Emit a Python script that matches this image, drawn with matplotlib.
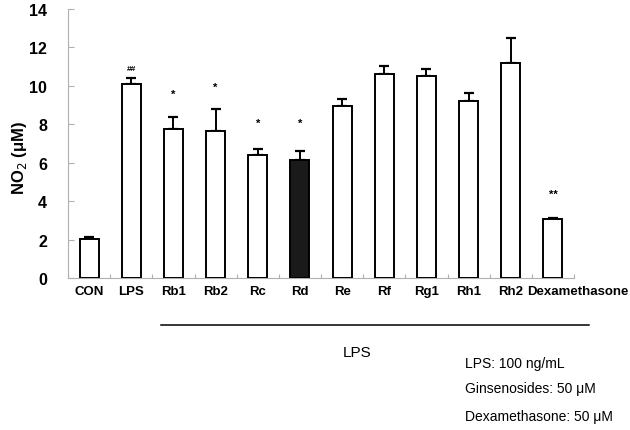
import matplotlib
matplotlib.use("Agg")
import matplotlib.pyplot as plt
import matplotlib.transforms as mtransforms
import numpy as np

plt.rcParams['font.family'] = ['Liberation Sans', 'DejaVu Sans']

categories = ['CON', 'LPS', 'Rb1', 'Rb2', 'Rc', 'Rd', 'Re', 'Rf', 'Rg1', 'Rh1', 'Rh2', 'Dexamethasone']
values = [2.05, 10.1, 7.76, 7.67, 6.39, 6.16, 8.97, 10.64, 10.5, 9.2, 11.18, 3.06]
errors = [0.1, 0.32, 0.6, 1.15, 0.3, 0.45, 0.32, 0.4, 0.37, 0.45, 1.3, 0.08]
fills = ['white'] * 5 + ['#1a1a1a'] + ['white'] * 6
marks = ['', '##', '*', '*', '*', '*', '', '', '', '', '', '**']
mark_y = [None, 10.9, 9.6, 9.95, 8.1, 8.1, None, None, None, None, None, 4.4]
yticks = [0, 2, 4, 6, 8, 10, 12, 14]

fig = plt.figure(figsize=(6.3, 4.31), dpi=100)
ax = fig.add_axes([68/630, 1 - 279/431, (574 - 68)/630, 269/431])

x = np.arange(len(categories))
ax.bar(x, values, width=0.45, color=fills, edgecolor='black', linewidth=1.4, zorder=3)
ax.errorbar(x, values, yerr=[np.zeros(len(errors)), errors], fmt='none', ecolor='black',
            elinewidth=1.4, capsize=3.5, capthick=1.6, zorder=2)

for xi, m, my in zip(x, marks, mark_y):
    if m:
        ax.text(xi, my, m, ha='center', va='center', fontsize=8 if m != '##' else 6, fontweight='bold')

ax.set_xlim(-0.5, len(categories) - 0.5)
ax.set_ylim(0, 14)
ax.set_yticks(yticks)
ax.set_yticklabels([str(v) for v in yticks], fontsize=11.5, fontweight='bold')
ax.set_xticks(np.arange(len(categories) + 1) - 0.5)
ax.set_xticklabels([])
ax.set_xticks(x, minor=True)
ax.set_xticklabels(categories, minor=True, fontsize=9.5, fontweight='bold')
ax.tick_params(axis='x', which='minor', length=0, pad=5)
ax.tick_params(axis='x', which='major', direction='in', length=3, color='#b0b0b0')
ax.tick_params(axis='y', direction='in', length=4, color='#b0b0b0', pad=15)

# Dexamethasone label sits to the right of its slot in the reference
dex_label = ax.get_xticklabels(minor=True)[-1]
dex_label.set_transform(dex_label.get_transform() +
                        mtransforms.ScaledTranslation(0.25, 0, fig.dpi_scale_trans))

for s in ['top', 'right']:
    ax.spines[s].set_visible(False)
for s in ['left', 'bottom']:
    ax.spines[s].set_color('#b0b0b0')
    ax.spines[s].set_linewidth(0.8)

ax.set_ylabel('NO$_2$ (μM)', fontsize=12, fontweight='bold', labelpad=8)
ax.yaxis.set_label_coords(-0.078, 0.45)

# LPS bracket line and notes
fig.add_artist(plt.Line2D([161/630, 589/630], [1 - 326/431, 1 - 326/431], color='black', linewidth=1.1))
fig.text(357/630, 1 - 353/431, 'LPS', ha='center', va='center', fontsize=11)
fig.text(465/630, 1 - 364/431, 'LPS: 100 ng/mL', ha='left', va='center', fontsize=10)
fig.text(465/630, 1 - 389/431, 'Ginsenosides: 50 μM', ha='left', va='center', fontsize=10)
fig.text(465/630, 1 - 417/431, 'Dexamethasone: 50 μM', ha='left', va='center', fontsize=10)

fig.savefig('out.png', dpi=100)
